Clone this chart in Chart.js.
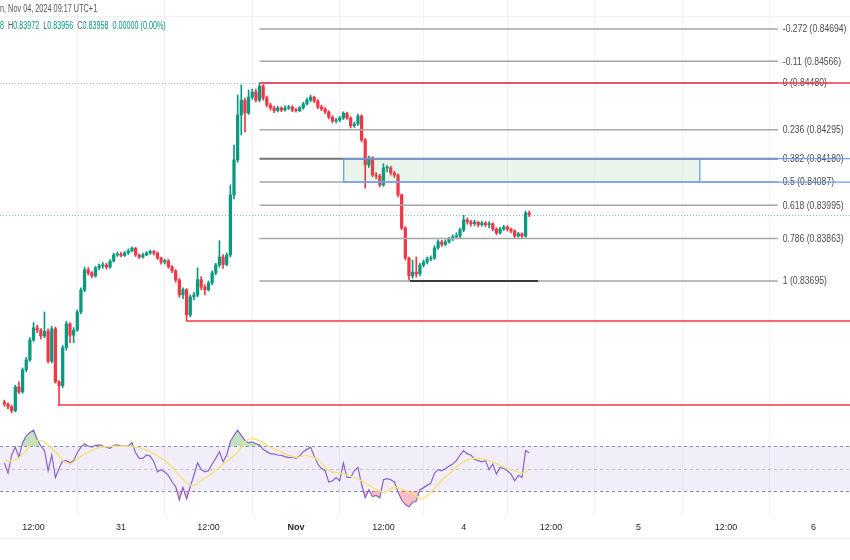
<!DOCTYPE html>
<html>
<head>
<meta charset="utf-8">
<script src="https://cdn.jsdelivr.net/npm/chart.js@4.4.1/dist/chart.umd.min.js"></script>
<style>
  html, body { margin: 0; padding: 0; background: #fff; }
  #wrap { width: 850px; height: 560px; position: relative; }
</style>
</head>
<body>
<div id="wrap"><canvas id="chart"></canvas></div>
<script>
// 30 minute candles, bar 0 = Oct 30 08:00 (UTC+1), last bar = Nov 4 09:00
const opens = [
  0.83214, 0.83207, 0.83196, 0.83180, 0.83275, 0.83255, 0.83342, 0.83382, 0.83461, 0.83509,
  0.83501, 0.83477, 0.83495, 0.83377, 0.83505, 0.83295, 0.83280, 0.83430, 0.83525, 0.83480,
  0.83500, 0.83572, 0.83659, 0.83739, 0.83727, 0.83715, 0.83747, 0.83755, 0.83758, 0.83750,
  0.83774, 0.83798, 0.83802, 0.83796, 0.83806, 0.83814, 0.83825, 0.83798, 0.83790, 0.83798,
  0.83806, 0.83812, 0.83806, 0.83786, 0.83770, 0.83775, 0.83751, 0.83735, 0.83699, 0.83640,
  0.83660, 0.83560, 0.83632, 0.83639, 0.83700, 0.83670, 0.83660, 0.83687, 0.83727, 0.83758,
  0.83790, 0.83760, 0.83798, 0.84036, 0.84175, 0.84353, 0.84412, 0.84361, 0.84424, 0.84444,
  0.84412, 0.84468, 0.84421, 0.84393, 0.84381, 0.84370, 0.84381, 0.84373, 0.84381, 0.84385,
  0.84373, 0.84370, 0.84381, 0.84397, 0.84412, 0.84424, 0.84409, 0.84385, 0.84377, 0.84365,
  0.84345, 0.84329, 0.84333, 0.84341, 0.84360, 0.84341, 0.84310, 0.84317, 0.84349, 0.84254,
  0.84155, 0.84183, 0.84115, 0.84111, 0.84076, 0.84143, 0.84143, 0.84123, 0.84115, 0.84036,
  0.83905, 0.83786, 0.83715, 0.83730, 0.83723, 0.83758, 0.83770, 0.83782, 0.83786, 0.83826,
  0.83850, 0.83840, 0.83850, 0.83862, 0.83870, 0.83873, 0.83897, 0.83937, 0.83930, 0.83922,
  0.83928, 0.83918, 0.83925, 0.83918, 0.83922, 0.83901, 0.83885, 0.83901, 0.83909, 0.83900,
  0.83893, 0.83873, 0.83882, 0.83873, 0.83965
];
const highs = [
  0.83222, 0.83212, 0.83202, 0.83282, 0.83295, 0.83350, 0.83392, 0.83470, 0.83530, 0.83520,
  0.83506, 0.83572, 0.83505, 0.83515, 0.83512, 0.83300, 0.83440, 0.83535, 0.83530, 0.83510,
  0.83580, 0.83668, 0.83750, 0.83748, 0.83732, 0.83752, 0.83762, 0.83768, 0.83765, 0.83780,
  0.83805, 0.83810, 0.83808, 0.83812, 0.83822, 0.83830, 0.83828, 0.83802, 0.83805, 0.83812,
  0.83818, 0.83816, 0.83810, 0.83790, 0.83782, 0.83780, 0.83756, 0.83740, 0.83705, 0.83668,
  0.83665, 0.83640, 0.83650, 0.83747, 0.83712, 0.83680, 0.83695, 0.83735, 0.83765, 0.83855,
  0.83800, 0.83806, 0.84076, 0.84234, 0.84432, 0.84472, 0.84420, 0.84452, 0.84456, 0.84456,
  0.84480, 0.84474, 0.84428, 0.84400, 0.84388, 0.84388, 0.84386, 0.84390, 0.84392, 0.84390,
  0.84380, 0.84388, 0.84404, 0.84420, 0.84432, 0.84428, 0.84414, 0.84392, 0.84382, 0.84370,
  0.84350, 0.84340, 0.84348, 0.84366, 0.84365, 0.84346, 0.84325, 0.84357, 0.84354, 0.84260,
  0.84190, 0.84188, 0.84125, 0.84118, 0.84160, 0.84152, 0.84150, 0.84130, 0.84120, 0.84040,
  0.83910, 0.83790, 0.83778, 0.83790, 0.83765, 0.83778, 0.83790, 0.83795, 0.83835, 0.83858,
  0.83856, 0.83858, 0.83868, 0.83878, 0.83886, 0.83905, 0.83955, 0.83945, 0.83935, 0.83936,
  0.83932, 0.83932, 0.83930, 0.83930, 0.83926, 0.83906, 0.83908, 0.83916, 0.83914, 0.83905,
  0.83898, 0.83888, 0.83886, 0.83972, 0.83972
];
const lows = [
  0.83198, 0.83188, 0.83172, 0.83176, 0.83248, 0.83250, 0.83335, 0.83376, 0.83455, 0.83490,
  0.83465, 0.83470, 0.83370, 0.83370, 0.83290, 0.83203, 0.83272, 0.83420, 0.83450, 0.83450,
  0.83495, 0.83565, 0.83652, 0.83718, 0.83708, 0.83710, 0.83740, 0.83745, 0.83742, 0.83745,
  0.83770, 0.83792, 0.83790, 0.83792, 0.83800, 0.83810, 0.83792, 0.83784, 0.83785, 0.83795,
  0.83800, 0.83798, 0.83780, 0.83762, 0.83762, 0.83745, 0.83728, 0.83690, 0.83630, 0.83625,
  0.83536, 0.83552, 0.83620, 0.83632, 0.83660, 0.83640, 0.83655, 0.83680, 0.83720, 0.83750,
  0.83745, 0.83755, 0.83790, 0.84020, 0.84165, 0.84274, 0.84286, 0.84355, 0.84415, 0.84405,
  0.84405, 0.84412, 0.84385, 0.84372, 0.84362, 0.84365, 0.84366, 0.84368, 0.84375, 0.84366,
  0.84364, 0.84366, 0.84376, 0.84392, 0.84406, 0.84402, 0.84378, 0.84370, 0.84358, 0.84338,
  0.84322, 0.84322, 0.84326, 0.84335, 0.84335, 0.84302, 0.84304, 0.84312, 0.84246, 0.84063,
  0.84145, 0.84108, 0.84100, 0.84068, 0.84070, 0.84128, 0.84115, 0.84105, 0.84028, 0.83898,
  0.83778, 0.83695, 0.83705, 0.83710, 0.83715, 0.83750, 0.83762, 0.83775, 0.83780, 0.83820,
  0.83832, 0.83835, 0.83845, 0.83855, 0.83862, 0.83866, 0.83890, 0.83920, 0.83912, 0.83914,
  0.83910, 0.83912, 0.83910, 0.83905, 0.83894, 0.83878, 0.83880, 0.83895, 0.83892, 0.83886,
  0.83866, 0.83868, 0.83866, 0.83868, 0.83950
];
const closes = [
  0.83207, 0.83196, 0.83180, 0.83275, 0.83255, 0.83342, 0.83382, 0.83461, 0.83509, 0.83501,
  0.83477, 0.83495, 0.83377, 0.83505, 0.83295, 0.83280, 0.83430, 0.83525, 0.83480, 0.83500,
  0.83572, 0.83659, 0.83739, 0.83727, 0.83715, 0.83747, 0.83755, 0.83758, 0.83750, 0.83774,
  0.83798, 0.83802, 0.83796, 0.83806, 0.83814, 0.83825, 0.83798, 0.83790, 0.83798, 0.83806,
  0.83812, 0.83806, 0.83786, 0.83770, 0.83775, 0.83751, 0.83735, 0.83699, 0.83640, 0.83660,
  0.83560, 0.83632, 0.83639, 0.83700, 0.83670, 0.83660, 0.83687, 0.83727, 0.83758, 0.83790,
  0.83760, 0.83798, 0.84036, 0.84175, 0.84353, 0.84412, 0.84361, 0.84424, 0.84444, 0.84412,
  0.84468, 0.84421, 0.84393, 0.84381, 0.84370, 0.84381, 0.84373, 0.84381, 0.84385, 0.84373,
  0.84370, 0.84381, 0.84397, 0.84412, 0.84424, 0.84409, 0.84385, 0.84377, 0.84365, 0.84345,
  0.84329, 0.84333, 0.84341, 0.84360, 0.84341, 0.84310, 0.84317, 0.84349, 0.84254, 0.84155,
  0.84183, 0.84115, 0.84111, 0.84076, 0.84143, 0.84143, 0.84123, 0.84115, 0.84036, 0.83905,
  0.83786, 0.83715, 0.83730, 0.83723, 0.83758, 0.83770, 0.83782, 0.83786, 0.83826, 0.83850,
  0.83840, 0.83850, 0.83862, 0.83870, 0.83873, 0.83897, 0.83937, 0.83930, 0.83922, 0.83928,
  0.83918, 0.83925, 0.83918, 0.83922, 0.83901, 0.83885, 0.83901, 0.83909, 0.83900, 0.83893,
  0.83873, 0.83882, 0.83873, 0.83965, 0.83958
];

// RSI (14) per bar and its moving average (read at a few bars)
const rsi = [
  55, 46, 62, 69, 60, 73, 79, 82, 84, 76,
  70, 66, 48, 62, 42, 50, 57, 57, 55, 57,
  64, 69, 72, 70, 69, 70.6, 71, 70, 69, 68,
  70.6, 71, 70, 70, 70, 73, 64, 59, 59, 62,
  61, 56, 47, 49, 47, 44, 38, 34, 22, 33,
  23, 34, 44, 55, 49, 47, 48, 54, 59, 65,
  56, 62, 74, 79.5, 84, 79.5, 75, 72.7, 73.6, 72,
  71, 67, 65, 63, 63, 62, 61.6, 60.5, 59.7, 60,
  59, 61, 65, 67, 69, 61, 54, 50, 48, 38,
  39, 42, 39, 55, 42, 42, 48, 51, 36, 24,
  31, 25, 26, 24, 40, 41, 40, 38, 29, 22,
  18, 16, 20, 21, 31, 33, 35, 37, 46, 49,
  48, 50, 52, 54, 57, 62, 66, 63, 62, 58,
  57, 56, 57, 49, 54, 45, 51, 50, 48, 45,
  39, 44, 42, 66, 64
];
const maBars = [0, 3, 6, 8, 10, 11, 13, 15, 16, 18, 20, 23, 26, 29, 32, 35, 38, 41, 44, 46, 48, 50,
  52, 54, 56, 58, 60, 62, 64, 66, 68, 70, 73, 77, 80, 83, 86, 89, 93, 97, 101, 104, 107, 110,
  113, 114, 116, 119, 122, 125, 128, 131, 134, 137, 140, 142, 144];
const maVals = [57, 57.7, 66, 73.6, 75, 73.6, 67.6, 61.6, 57.2, 54, 58.7, 64.6, 68.5, 69.7, 69.7,
  69.7, 67.6, 63, 57, 51.2, 43.7, 37.8, 34.8, 39.3, 43.7, 48.2, 54, 58.7, 64.6, 73.6, 76.6, 74.5,
  69, 63, 60, 61.6, 57.8, 48.2, 45.2, 40.8, 33.3, 28.8, 33.3, 30.3, 25.8, 22.8, 25.8, 36.3, 45.2,
  54, 58.7, 58.7, 55.7, 51.2, 48.2, 45.8, 48.8];

// time axis
const tickIdx = [8, 32, 56, 80, 104, 126, 150, 174, 198, 222];
const tickText = ['12:00', '31', '12:00', 'Nov', '12:00', '4', '12:00', '5', '12:00', '6'];

// fibonacci retracement from the high bar to the right
const fibRatios = ['-0.272', '-0.11', '0', '0.236', '0.382', '0.5', '0.618', '0.786', '1'];
const fibPrices = [0.84694, 0.84566, 0.84480, 0.84295, 0.84180, 0.84087, 0.83995, 0.83863, 0.83695];
const fibFrom = 70, fibTo = 212.2;

// horizontal rays (red) and their start bars
const rayPrices = [0.84480, 0.83536, 0.83203];
const rayFrom = [70, 50, 14.6];

// zone box between 0.382 and 0.5
const boxFrom = 93.1, boxTo = 190.8;
// line under the low
const lowLineFrom = 111.3, lowLineTo = 146.4;

const lastPrice = 0.83958;
const UP = '#089981', DOWN = '#f23645';
const FONT = '"Liberation Sans", Arial, sans-serif';

const colors = closes.map((c, i) => c >= opens[i] ? UP : DOWN);

// narrow text like the screenshot's UI font
function narrowText(ctx, str, x, y, sx) {
  ctx.save();
  ctx.translate(x, y);
  ctx.scale(sx, 1);
  ctx.fillText(str, 0, 0);
  ctx.restore();
  return ctx.measureText(str).width * sx;
}

const drawings = {
  id: 'drawings',
  beforeDatasetsDraw(chart) {
    const { ctx, chartArea: ca, scales } = chart;
    const ys = scales.y, yr = scales.yr, xs = scales.x;
    ctx.save();
    // RSI band
    const y70 = yr.getPixelForValue(70), y30 = yr.getPixelForValue(30), y50 = yr.getPixelForValue(50);
    ctx.fillStyle = 'rgba(126,87,194,0.1)';
    ctx.fillRect(ca.left, y70, ca.right - ca.left, y30 - y70);
    ctx.lineWidth = 1;
    ctx.setLineDash([3, 3]);
    [[y70, '#8d8f98'], [y50, '#c3c5cc'], [y30, '#8d8f98']].forEach(([y, c]) => {
      ctx.strokeStyle = c;
      ctx.beginPath();
      ctx.moveTo(ca.left, Math.round(y) + 0.5);
      ctx.lineTo(ca.right, Math.round(y) + 0.5);
      ctx.stroke();
    });
    // dotted price lines
    ctx.setLineDash([1, 2]);
    ctx.strokeStyle = '#b5b8c0';
    let y = Math.round(ys.getPixelForValue(fibPrices[2])) + 0.5;
    ctx.beginPath(); ctx.moveTo(ca.left, y); ctx.lineTo(xs.getPixelForValue(fibFrom), y); ctx.stroke();
    ctx.strokeStyle = 'rgba(8,153,129,0.55)';
    y = Math.round(ys.getPixelForValue(lastPrice)) + 0.5;
    ctx.beginPath(); ctx.moveTo(ca.left, y); ctx.lineTo(ca.right, y); ctx.stroke();
    // pane top border
    ctx.setLineDash([]);
    ctx.strokeStyle = '#f0f2f6';
    ctx.beginPath(); ctx.moveTo(ca.left, 16.5); ctx.lineTo(ca.right, 16.5); ctx.stroke();
    ctx.restore();
  },
  afterDatasetsDraw(chart) {
    const { ctx, chartArea: ca, scales } = chart;
    const ys = scales.y, xs = scales.x;
    ctx.save();
    const x0 = xs.getPixelForValue(fibFrom), x1 = xs.getPixelForValue(fibTo);

    // fib levels
    ctx.font = '10px ' + FONT;
    ctx.textBaseline = 'middle';
    fibPrices.forEach((p, k) => {
      const y = ys.getPixelForValue(p);
      ctx.strokeStyle = k === 4 ? '#737373' : '#a6a6a6';
      ctx.lineWidth = k === 4 ? 2 : 1.5;
      ctx.beginPath(); ctx.moveTo(x0, y); ctx.lineTo(x1, y); ctx.stroke();
      ctx.fillStyle = '#4d4d4d';
      narrowText(ctx, fibRatios[k] + ' (' + p.toFixed(5) + ')', x1 + 5, y + 0.5, 0.86);
    });

    // zone box
    const bx0 = xs.getPixelForValue(boxFrom), bx1 = xs.getPixelForValue(boxTo);
    const by0 = ys.getPixelForValue(fibPrices[4]), by1 = ys.getPixelForValue(fibPrices[5]);
    ctx.fillStyle = 'rgba(76,175,80,0.12)';
    ctx.fillRect(bx0, by0, bx1 - bx0, by1 - by0);
    ctx.strokeStyle = '#6f9cf0';
    ctx.lineWidth = 1.3;
    ctx.strokeRect(bx0, by0, bx1 - bx0, by1 - by0);
    ctx.beginPath();
    ctx.moveTo(bx1, by0); ctx.lineTo(ca.right, by0);
    ctx.moveTo(bx1, by1); ctx.lineTo(ca.right, by1);
    ctx.stroke();

    // red rays
    ctx.strokeStyle = '#f23645';
    ctx.lineWidth = 1.5;
    rayPrices.forEach((p, k) => {
      const y = ys.getPixelForValue(p);
      ctx.beginPath(); ctx.moveTo(xs.getPixelForValue(rayFrom[k]), y); ctx.lineTo(ca.right, y); ctx.stroke();
    });

    // dark line at the low
    const yl = ys.getPixelForValue(fibPrices[8]);
    ctx.strokeStyle = '#3a3a3a';
    ctx.lineWidth = 2;
    ctx.beginPath(); ctx.moveTo(xs.getPixelForValue(lowLineFrom), yl); ctx.lineTo(xs.getPixelForValue(lowLineTo), yl); ctx.stroke();

    // header
    ctx.font = '10px ' + FONT;
    ctx.textBaseline = 'middle';
    ctx.fillStyle = '#555';
    narrowText(ctx, 'n, Nov 04, 2024 09:17 UTC+1', 0, 9, 0.73);
    const parts = [['8  ', UP], ['H', '#555'], ['0.83972  ', UP], ['L', '#555'], ['0.83956  ', UP],
      ['C', '#555'], ['0.83958  ', UP], ['0.00000 (0.00%)', UP]];
    let tx = 0;
    parts.forEach(([t, c]) => {
      ctx.fillStyle = c;
      tx += narrowText(ctx, t, tx, 26, 0.72);
    });

    // time axis border
    ctx.strokeStyle = '#e9ebf0';
    ctx.lineWidth = 1;
    ctx.beginPath(); ctx.moveTo(0, 538.5); ctx.lineTo(chart.width, 538.5); ctx.stroke();
    ctx.restore();
  }
};

new Chart(document.getElementById('chart'), {
  type: 'bar',
  data: {
    datasets: [
      {
        label: 'wick',
        data: closes.map((c, i) => ({ x: i, y: [lows[i], highs[i]] })),
        backgroundColor: colors,
        barThickness: 1,
        grouped: false,
        yAxisID: 'y',
        order: 3
      },
      {
        label: 'body',
        data: closes.map((c, i) => ({ x: i, y: [opens[i], c] })),
        backgroundColor: colors,
        barThickness: 2.6,
        minBarLength: 1,
        grouped: false,
        yAxisID: 'y',
        order: 2
      },
      {
        type: 'line',
        label: 'RSI',
        data: rsi.map((v, i) => ({ x: i, y: v })),
        yAxisID: 'yr',
        borderColor: '#8763c9',
        borderWidth: 1.2,
        pointRadius: 0,
        fill: { target: { value: 70 }, above: 'rgba(76,175,80,0.35)', below: 'rgba(0,0,0,0)' },
        order: 1
      },
      {
        type: 'line',
        label: 'RSI low',
        data: rsi.map((v, i) => ({ x: i, y: v })),
        yAxisID: 'yr',
        borderWidth: 0,
        borderColor: 'rgba(0,0,0,0)',
        pointRadius: 0,
        fill: { target: { value: 30 }, above: 'rgba(0,0,0,0)', below: 'rgba(242,54,69,0.32)' },
        order: 1
      },
      {
        type: 'line',
        label: 'RSI MA',
        data: maBars.map((b, k) => ({ x: b, y: maVals[k] })),
        yAxisID: 'yr',
        borderColor: '#f5e27a',
        borderWidth: 1.4,
        pointRadius: 0,
        tension: 0.4,
        fill: false,
        order: 0
      }
    ]
  },
  options: {
    responsive: true,
    maintainAspectRatio: false,
    animation: false,
    events: [],
    layout: { padding: 0 },
    plugins: { legend: { display: false }, tooltip: { enabled: false } },
    scales: {
      x: {
        type: 'linear',
        min: -1.2,
        max: 232,
        offset: false,
        afterBuildTicks: (axis) => { axis.ticks = tickIdx.map(v => ({ value: v })); },
        afterFit: (scale) => { scale.height = 43; },
        ticks: {
          autoSkip: false,
          maxRotation: 0,
          padding: 5,
          color: '#1e222d',
          font: (ctx) => ({ family: FONT, size: 9, weight: ctx.tick && ctx.tick.value === 80 ? 'bold' : 'normal' }),
          callback: (v) => tickText[tickIdx.indexOf(v)]
        },
        grid: { color: '#f0f3fa', drawTicks: false },
        border: { display: false }
      },
      y: { type: 'linear', display: false, min: 0.82759, max: 0.84809 },
      yr: { type: 'linear', display: false, min: 6.9, max: 466.4 }
    }
  },
  plugins: [drawings]
});
</script>
</body>
</html>
